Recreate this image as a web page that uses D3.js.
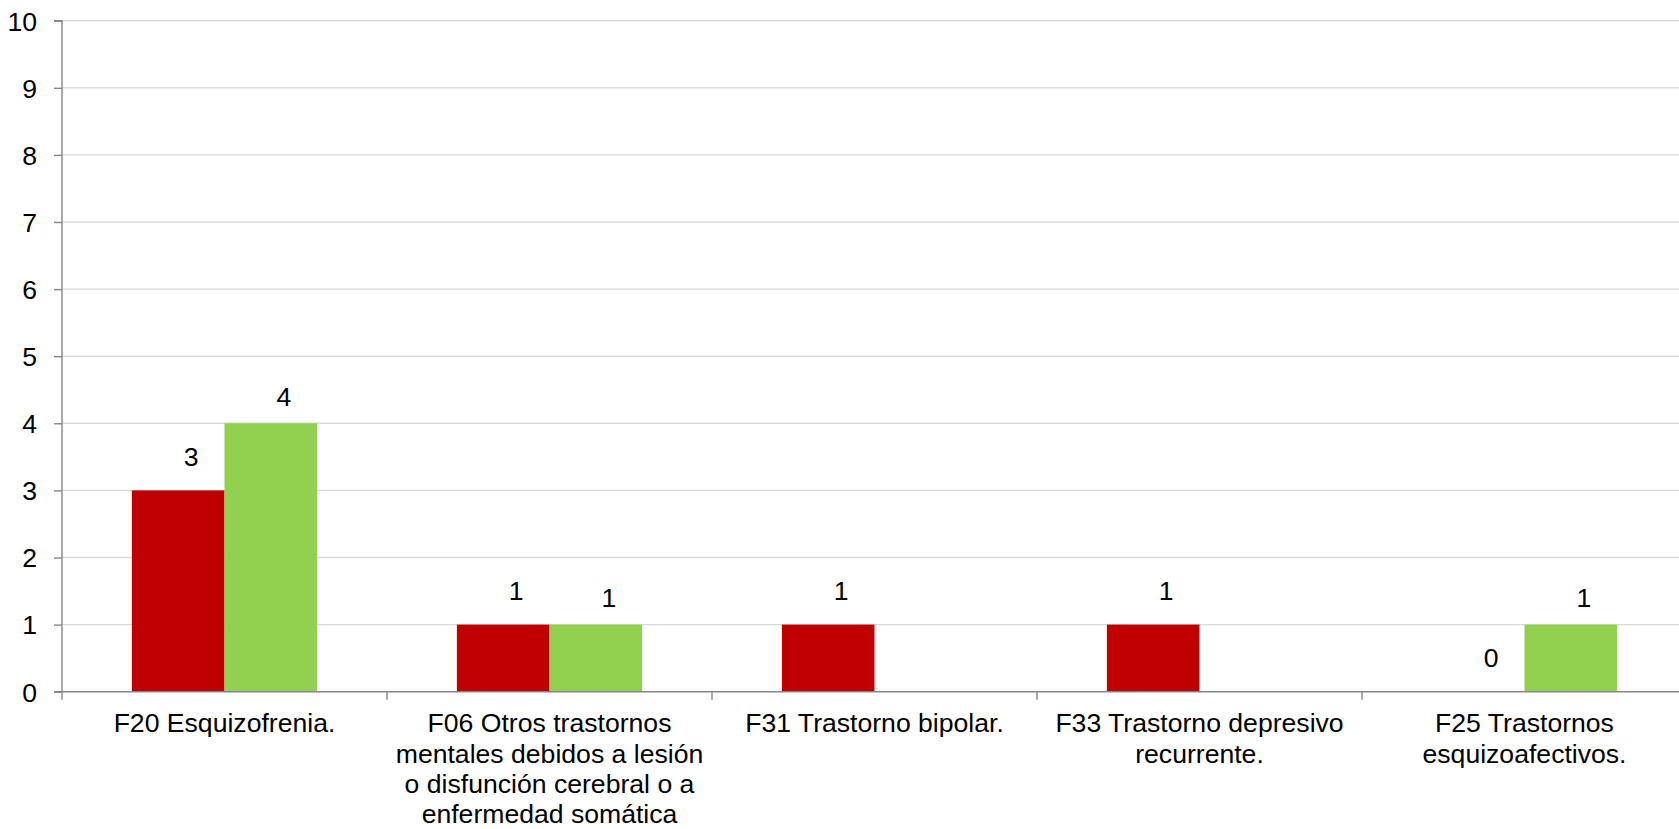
<!DOCTYPE html>
<html>
<head>
<meta charset="utf-8">
<script src="https://cdn.jsdelivr.net/npm/d3@7"></script>
<style>
  html, body { margin: 0; padding: 0; background: #ffffff; overflow: hidden; }
  svg { display: block; }
  text { font-family: "Liberation Sans", Arial, sans-serif; fill: #000; }
</style>
</head>
<body>
<svg id="chart" width="1679" height="829"></svg>
<script>
// ---- data ----
const categories = [
  "F20 Esquizofrenia.",
  "F06 Otros trastornos mentales debidos a lesión o disfunción cerebral o a enfermedad somática",
  "F31 Trastorno bipolar.",
  "F33 Trastorno depresivo recurrente.",
  "F25 Trastornos esquizoafectivos."
];
const categoryLines = [
  ["F20 Esquizofrenia."],
  ["F06 Otros trastornos", "mentales debidos a lesión", "o disfunción cerebral o a", "enfermedad somática"],
  ["F31 Trastorno bipolar."],
  ["F33 Trastorno depresivo", "recurrente."],
  ["F25 Trastornos", "esquizoafectivos."]
];
const seriesNames = ["Serie 1", "Serie 2"];
const seriesRed   = [3, 1, 1, 1, 0];
const seriesGreen = [4, 1, null, null, 1];
const yTicks = [0, 1, 2, 3, 4, 5, 6, 7, 8, 9, 10];
const colors = ["#C00000", "#92D050"];

// ---- layout ----
const W = 1679, H = 829;
const mLeft = 62, mTop = 20.7, mBottom = 691.7;
const bandW = 325;
const fontSize = 26.6;

const svg = d3.select("#chart");

const y = d3.scaleLinear().domain([0, 10]).range([mBottom, mTop]);
const x0 = d3.scaleBand().domain(categories).range([mLeft, mLeft + bandW * categories.length]).padding(0);
const groupFrac = 0.57;
const bw = x0.bandwidth();
const x1 = d3.scaleBand().domain(seriesNames)
  .range([bw * (1 - groupFrac) / 2, bw * (1 + groupFrac) / 2]).padding(0);

// gridlines
svg.append("g").selectAll("line").data(yTicks.filter(d => d > 0)).join("line")
  .attr("x1", mLeft).attr("x2", W)
  .attr("y1", d => y(d)).attr("y2", d => y(d))
  .attr("stroke", "#d9d9d9").attr("stroke-width", 1.4);

// bars
const rows = categories.map((c, i) => ({
  cat: c,
  vals: [seriesRed[i], seriesGreen[i]]
}));

const g = svg.append("g");
rows.forEach(r => {
  r.vals.forEach((v, si) => {
    if (v === null) return;
    const xs = x0(r.cat) + x1(seriesNames[si]);
    g.append("rect")
      .attr("x", xs).attr("width", x1.bandwidth())
      .attr("y", y(v)).attr("height", y(0) - y(v))
      .attr("fill", colors[si]);
  });
});

// y axis
const yAxis = d3.axisLeft(y).tickValues(yTicks).tickSize(8).tickPadding(17).tickFormat(d3.format("d"));
const ya = svg.append("g").attr("transform", `translate(${mLeft},0)`).call(yAxis);
ya.select(".domain").attr("stroke", "#868686").attr("stroke-width", 1.4).attr("d", `M-8,${mTop}H0V${mBottom}H-8`);
ya.selectAll(".tick line").attr("stroke", "#868686").attr("stroke-width", 1.4);
ya.selectAll(".tick text").attr("font-size", fontSize).attr("fill", "#000")
  .attr("font-family", '"Liberation Sans", Arial, sans-serif').attr("dy", "0.35em");

// x axis
const xa = svg.append("g");
xa.append("line").attr("x1", mLeft).attr("x2", W).attr("y1", mBottom).attr("y2", mBottom)
  .attr("stroke", "#868686").attr("stroke-width", 1.4);
const boundaries = categories.map(c => x0(c));
xa.selectAll("line.tk").data(boundaries).join("line").attr("class", "tk")
  .attr("x1", d => d).attr("x2", d => d).attr("y1", mBottom).attr("y2", mBottom + 8)
  .attr("stroke", "#868686").attr("stroke-width", 1.4);

// category labels
categories.forEach((c, i) => {
  const cx = x0(c) + bw / 2;
  const t = svg.append("text").attr("text-anchor", "middle").attr("font-size", fontSize)
    .attr("x", cx).attr("y", mBottom + 40.6);
  categoryLines[i].forEach((ln, li) => {
    t.append("tspan").attr("x", cx).attr("dy", li === 0 ? 0 : 30.3).text(ln);
  });
});

// value labels
const labelLift = [34, 27];
rows.forEach(r => {
  r.vals.forEach((v, si) => {
    if (v === null) return;
    const cx = x0(r.cat) + x1(seriesNames[si]) + x1.bandwidth() / 2;
    svg.append("text").attr("text-anchor", "middle").attr("font-size", fontSize)
      .attr("x", cx + 13).attr("y", y(v) - labelLift[si]).attr("dy", "0.35em")
      .text(v);
  });
});
</script>
</body>
</html>
